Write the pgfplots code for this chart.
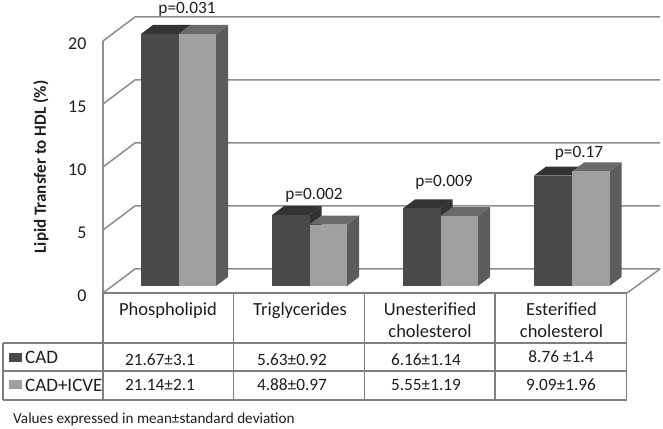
\documentclass[border=0pt]{standalone}
\usepackage{fontspec}
\setmainfont{Carlito}
\usepackage{pgfplots}
\pgfplotsset{compat=1.18}

\definecolor{wallgray}{HTML}{8E8E8E}
\definecolor{tablegray}{HTML}{7F7F7F}
\definecolor{cadfront}{HTML}{4A4A4A}
\definecolor{cadtop}{HTML}{333333}
\definecolor{icvefront}{HTML}{A0A0A0}
\definecolor{icvetop}{HTML}{6A6A6A}
\definecolor{barside}{HTML}{5C5C5C}
\definecolor{inktext}{HTML}{1E1E1E}

% one 3D bar: left x, value, front, top, side colours. Height is capped at 20 like the original chart
\newcommand{\solidbar}[5]{%
  \pgfmathsetmacro{\xb}{#1+37.5}%
  \pgfmathsetmacro{\xc}{#1+49.5}%
  \pgfmathsetmacro{\xd}{#1+12}%
  \pgfmathsetmacro{\xm}{#1+18.75}%
  \pgfmathsetmacro{\vt}{min(#2,20)}%
  \pgfmathsetmacro{\vd}{\vt+0.714}%
  \addplot[fill=#5,draw=none] coordinates {(\xb,0) (\xc,0.714) (\xc,\vd) (\xb,\vt)};
  \addplot[fill=#4,draw=none] coordinates {(#1,\vt) (\xd,\vd) (\xc,\vd) (\xb,\vt)};
  \addplot[ybar,bar shift=0pt,bar width=37.5,fill=#3,draw=none,
           y filter/.expression={min(y,20)}] coordinates {(\xm,#2)};
}

\begin{document}
\begin{tikzpicture}
\useasboundingbox (0,0) rectangle (663pt,428pt);

% coordinates below are reference pixels
\begin{scope}[x=1pt,y=-1pt,yshift=428pt]
  \foreach \v in {0,5,...,20}
    \draw[wallgray,line width=1.5pt] (103,{293-12.6*\v}) -- (135,{269-12.6*\v}) -- (660,{269-12.6*\v});
  \draw[wallgray,line width=1.5pt] (660,269) -- (627,293);
\end{scope}

\begin{axis}[
    at={(0,0)}, anchor=south west,
    scale only axis, width=663pt, height=428pt,
    xmin=0, xmax=663, ymin=-11.27, ymax=22.698,
    hide axis,
]
\solidbar{141}{21.67}{cadfront}{cadtop}{cadtop}
\solidbar{178.5}{21.14}{icvefront}{icvetop}{barside}
\solidbar{272}{5.63}{cadfront}{cadtop}{cadtop}
\solidbar{309.5}{4.88}{icvefront}{icvetop}{barside}
\solidbar{403}{6.16}{cadfront}{cadtop}{cadtop}
\solidbar{440.5}{5.55}{icvefront}{icvetop}{barside}
\solidbar{534}{8.76}{cadfront}{cadtop}{cadtop}
\solidbar{572}{9.09}{icvefront}{icvetop}{barside}
\end{axis}

\begin{axis}[
    at={(103pt,135pt)}, anchor=south west,
    scale only axis, width=523pt, height=252pt,
    xmin=0, xmax=1, ymin=0, ymax=20,
    axis x line=none,
    axis y line*=left,
    y axis line style={wallgray,line width=1.5pt,-},
    ytick={0,5,10,15,20},
    major tick length=0pt,
    /pgf/number format/assume math mode=true,
    yticklabel style={font=\fontsize{18}{18}\selectfont,text=inktext,xshift=-13pt,yshift=-2.5pt},
    ylabel={Lipid Transfer to HDL (\%)},
    every axis y label/.style={at={(axis description cs:-0.1185,0.5)},rotate=90,anchor=center,
      font=\fontsize{17}{17}\selectfont\bfseries,text=inktext},
]
\end{axis}

\begin{scope}[x=1pt,y=-1pt,yshift=428pt,text=inktext]
  % data table
  \draw[tablegray,line width=1.5pt] (103,293) -- (627,293);
  \draw[tablegray,line width=1.5pt] (3,343) -- (627,343);
  \draw[tablegray,line width=1.5pt] (3,371) -- (627,371);
  \draw[tablegray,line width=1.5pt] (3,400) -- (627,400);
  \draw[tablegray,line width=1.5pt] (3,343) -- (3,400);
  \foreach \x in {103,233.5,364.5,495,626.5}
    \draw[tablegray,line width=1.5pt] (\x,293) -- (\x,400);
  \fill[cadfront] (9,353) rectangle (22,362);
  \fill[icvefront] (9,380) rectangle (22,389);

  \tikzset{plab/.style={font=\fontsize{17.3}{22}\selectfont,inner sep=0pt},
    cat/.style={font=\fontsize{18.5}{22}\selectfont,inner sep=0pt,align=center},
    val/.style={font=\fontsize{17.3}{22}\selectfont,inner sep=0pt},
    leg/.style={font=\fontsize{19}{22}\selectfont,inner sep=0pt,anchor=west}}
  \node[plab] at (187,9.5) {p=0.031};
  \node[plab] at (314,195.5) {p=0.002};
  \node[plab] at (444,182.5) {p=0.009};
  \node[plab] at (579,153.5) {p=0.17};

  \node[cat] at (168,311) {Phospholipid};
  \node[cat] at (300,311) {Triglycerides};
  \node[cat,anchor=north] at (430,302) {Unesterified\\cholesterol};
  \node[cat,anchor=north] at (561.5,302) {Esterified\\cholesterol};

  \node[leg] at (25,357) {CAD};
  \node[leg] at (25,385) {CAD+ICVE};
  \node[val] at (160,360) {21.67±3.1};
  \node[val] at (160,385) {21.14±2.1};
  \node[val] at (292,360) {5.63±0.92};
  \node[val] at (292,385) {4.88±0.97};
  \node[val] at (426,360) {6.16±1.14};
  \node[val] at (426,385) {5.55±1.19};
  \node[val] at (561,357) {8.76 ±1.4};
  \node[val] at (561,385) {9.09±1.96};

  \node[anchor=west,inner sep=0pt,font=\fontsize{15.2}{16}\selectfont] at (13,419) {Values expressed in mean±standard deviation};
\end{scope}
\end{tikzpicture}
\end{document}
